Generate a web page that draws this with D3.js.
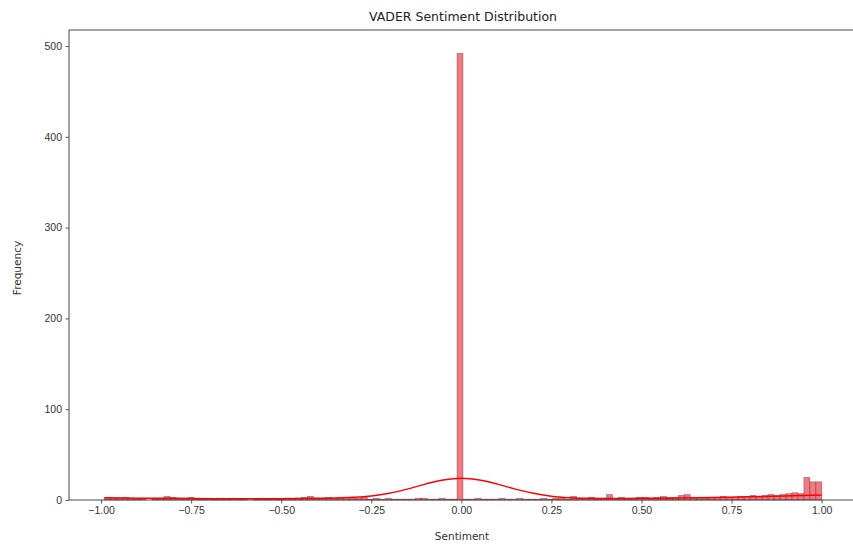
<!DOCTYPE html>
<html>
<head>
<meta charset="utf-8">
<script src="https://cdn.jsdelivr.net/npm/d3@7"></script>
<style>
  html, body { margin: 0; padding: 0; background: #fff; overflow: hidden; }
  svg { display: block; font-family: "DejaVu Sans", sans-serif; }
</style>
</head>
<body>
<svg id="chart" width="853" height="544"></svg>
<script>
// Histogram of VADER compound scores: bins of equal width starting at binStart
const binStart = -0.9914;
const binWidth = 0.0166;
const binCounts = [
  3, 2, 2, 3, 2, 1, 2, 0, 1, 2,
  4, 3, 2, 2, 3, 2, 1, 2, 1, 2,
  1, 2, 1, 1, 0, 1, 2, 1, 2, 1,
  2, 1, 2, 3, 4, 2, 2, 3, 2, 2,
  3, 2, 2, 3, 1, 2, 1, 2, 1, 1,
  1, 1, 2, 2, 1, 1, 2, 1, 1, 492,
  1, 1, 2, 1, 1, 1, 2, 1, 1, 2,
  1, 1, 1, 2, 1, 2, 2, 1, 4, 2,
  2, 3, 2, 2, 6, 2, 3, 2, 2, 3,
  3, 2, 3, 4, 3, 3, 5, 6, 3, 3,
  2, 3, 3, 4, 3, 3, 4, 4, 5, 4,
  5, 6, 5, 6, 7, 8, 7, 25, 20, 20
];

// Density estimate, scaled to counts
const kdeX = [-0.99, -0.9, -0.8, -0.7, -0.6, -0.5, -0.4, -0.35, -0.3, -0.25, -0.2, -0.15, -0.1, -0.05, 0,
              0.05, 0.1, 0.15, 0.2, 0.25, 0.3, 0.35, 0.4, 0.5, 0.6, 0.7, 0.8, 0.9, 0.95, 1.0];
const kdeY = [2.5, 2.0, 1.8, 1.5, 1.4, 1.5, 1.8, 2.2, 3.0, 4.5, 7.5, 12, 17.5, 22, 24,
              22, 17.5, 12, 7.5, 4.2, 2.5, 1.8, 1.6, 1.8, 2.2, 2.8, 3.5, 4.5, 5.0, 5.5];

const xTicks = [-1.0, -0.75, -0.5, -0.25, 0, 0.25, 0.5, 0.75, 1.0];
const yTicks = [0, 100, 200, 300, 400, 500];

const titleText = "VADER Sentiment Distribution";
const xLabel = "Sentiment";
const yLabel = "Frequency";

const svg = d3.select("#chart");
const margin = { left: 69, right: 858, top: 30, bottom: 500 };

const x = d3.scaleLinear().domain([-1.089, 1.101]).range([margin.left, margin.right]);
const y = d3.scaleLinear().domain([0, 517.6]).range([margin.bottom, margin.top]);

const bins = binCounts.map((c, i) => ({
  x0: binStart + i * binWidth,
  x1: binStart + (i + 1) * binWidth,
  count: c
}));

// bars
svg.append("g")
  .selectAll("rect")
  .data(bins)
  .join("rect")
  .attr("x", d => x(d.x0))
  .attr("width", d => x(d.x1) - x(d.x0))
  .attr("y", d => y(d.count))
  .attr("height", d => y(0) - y(d.count))
  .attr("fill", "rgba(235, 30, 45, 0.6)")
  .attr("stroke", "rgba(70, 50, 55, 0.55)")
  .attr("stroke-width", 0.6);

// density line
const line = d3.line()
  .x((d, i) => x(kdeX[i]))
  .y(d => y(d))
  .curve(d3.curveCatmullRom);

svg.append("path")
  .datum(kdeY)
  .attr("d", line)
  .attr("fill", "none")
  .attr("stroke", "#ff0000")
  .attr("stroke-width", 1.5);

// axes
const xAxis = d3.axisBottom(x)
  .tickValues(xTicks)
  .tickFormat(d3.format(".2f"))
  .tickSize(3.5)
  .tickPadding(3.5);
const gx = svg.append("g")
  .attr("transform", `translate(0,${margin.bottom})`)
  .call(xAxis);
gx.select(".domain").remove();
gx.selectAll("text").attr("font-size", 10.5).attr("fill", "#333")
  .text(d => d3.format(".2f")(d).replace("-", "\u2212"));
gx.selectAll("line").attr("stroke", "#333").attr("stroke-width", 0.8);

const yAxis = d3.axisLeft(y)
  .tickValues(yTicks)
  .tickFormat(d3.format("d"))
  .tickSize(3.5)
  .tickPadding(3.5);
const gy = svg.append("g")
  .attr("transform", `translate(${margin.left},0)`)
  .call(yAxis);
gy.select(".domain").remove();
gy.selectAll("text").attr("font-size", 10.5).attr("fill", "#333");
gy.selectAll("line").attr("stroke", "#333").attr("stroke-width", 0.8);

// spines: top, bottom, left (the right one lies past the canvas edge)
const spines = [
  [[margin.left, margin.top], [853, margin.top]],
  [[margin.left, margin.bottom], [853, margin.bottom]],
  [[margin.left, margin.top], [margin.left, margin.bottom]]
];
svg.append("g")
  .selectAll("path")
  .data(spines)
  .join("path")
  .attr("d", d => d3.line()(d))
  .attr("fill", "none")
  .attr("stroke", "#333")
  .attr("stroke-width", 0.9);

// labels
svg.append("text")
  .attr("x", 463)
  .attr("y", 21)
  .attr("text-anchor", "middle")
  .attr("font-size", 12.5)
  .attr("fill", "#222")
  .text(titleText);

svg.append("text")
  .attr("x", 462)
  .attr("y", 540)
  .attr("text-anchor", "middle")
  .attr("font-size", 10.5)
  .attr("fill", "#333")
  .text(xLabel);

svg.append("text")
  .attr("transform", "translate(21,268) rotate(-90)")
  .attr("text-anchor", "middle")
  .attr("font-size", 10.5)
  .attr("fill", "#333")
  .text(yLabel);
</script>
</body>
</html>
